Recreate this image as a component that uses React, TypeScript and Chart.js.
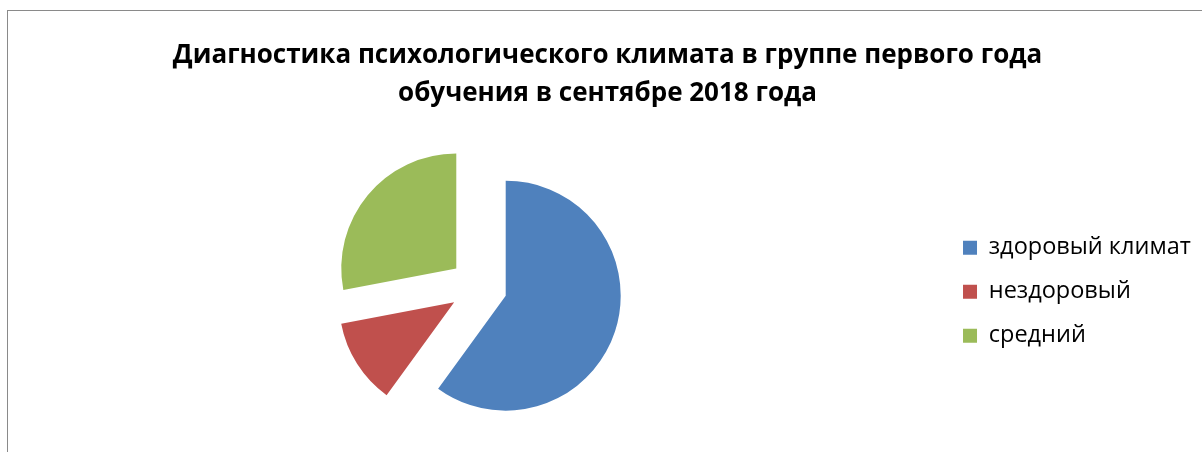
import React, { useEffect, useRef } from 'react';
import { Chart, registerables, ArcElement, PieController } from 'chart.js';

Chart.register(...registerables);

// ---- data ----
const categories: string[] = ['здоровый климат', 'нездоровый', 'средний'];
const values: number[] = [60, 12, 28];
const sliceColors: string[] = ['#4F81BD', '#C0504D', '#9BBB59'];
const titleLines: string[] = [
  'Диагностика психологического климата в группе первого года',
  'обучения в сентябре 2018 года',
];

// ---- exploded pie: every slice is pulled out by the same distance ----
const EXPLODE_PX = 28.7;

class ExplodedArc extends ArcElement {
  static id = 'explodedArc';
  draw(ctx: CanvasRenderingContext2D) {
    const self: any = this;
    const mid = (self.startAngle + self.endAngle) / 2;
    ctx.save();
    ctx.translate(Math.cos(mid) * EXPLODE_PX, Math.sin(mid) * EXPLODE_PX);
    super.draw(ctx);
    ctx.restore();
  }
}

class ExplodedPieController extends PieController {
  static id = 'explodedPie';
  static defaults = { dataElementType: 'explodedArc' };
}

Chart.register(ExplodedArc as any, ExplodedPieController as any);

const FONT = "'Open Sans', 'Liberation Sans', sans-serif";

export default function App() {
  const canvasRef = useRef<HTMLCanvasElement | null>(null);

  useEffect(() => {
    const canvas = canvasRef.current;
    if (!canvas) return;
    const chart = new Chart(canvas, {
      type: 'explodedPie' as any,
      data: {
        labels: categories,
        datasets: [
          {
            data: values,
            backgroundColor: sliceColors,
            borderWidth: 0,
            radius: 115,
          } as any,
        ],
      },
      options: {
        responsive: false,
        maintainAspectRatio: false,
        animation: false,
        events: [],
        layout: { padding: { left: 7.3, right: 10.25, top: 0, bottom: 7.4 } },
        plugins: {
          title: {
            display: true,
            text: titleLines,
            color: '#000000',
            font: { family: FONT, size: 26, weight: 'bold', lineHeight: 1.46 },
            padding: { top: 36.5, bottom: 8.5 },
          },
          legend: {
            position: 'right',
            fullSize: false,
            align: 'center',
            title: { display: true, text: '', font: { size: 10, lineHeight: 1 }, padding: 0 },
            labels: {
              boxWidth: 14,
              boxHeight: 14,
              padding: 20.5,
              color: '#000000',
              font: { family: FONT, size: 23.5 },
            },
          },
          tooltip: { enabled: false },
        },
      } as any,
    });
    return () => chart.destroy();
  }, []);

  return (
    <div
      style={{
        position: 'fixed',
        left: 0,
        top: 0,
        width: 1202,
        height: 452,
        overflow: 'hidden',
        background: '#ffffff',
      }}
    >
      <div
        style={{
          position: 'absolute',
          left: 7,
          top: 10,
          width: 1400,
          height: 800,
          borderLeft: '1.5px solid #8a8a8a',
          borderTop: '1.5px solid #8a8a8a',
        }}
      />
      <canvas
        ref={canvasRef}
        width={1204}
        height={460}
        style={{ position: 'absolute', left: 7, top: 0, width: 1204, height: 460 }}
      />
    </div>
  );
}
